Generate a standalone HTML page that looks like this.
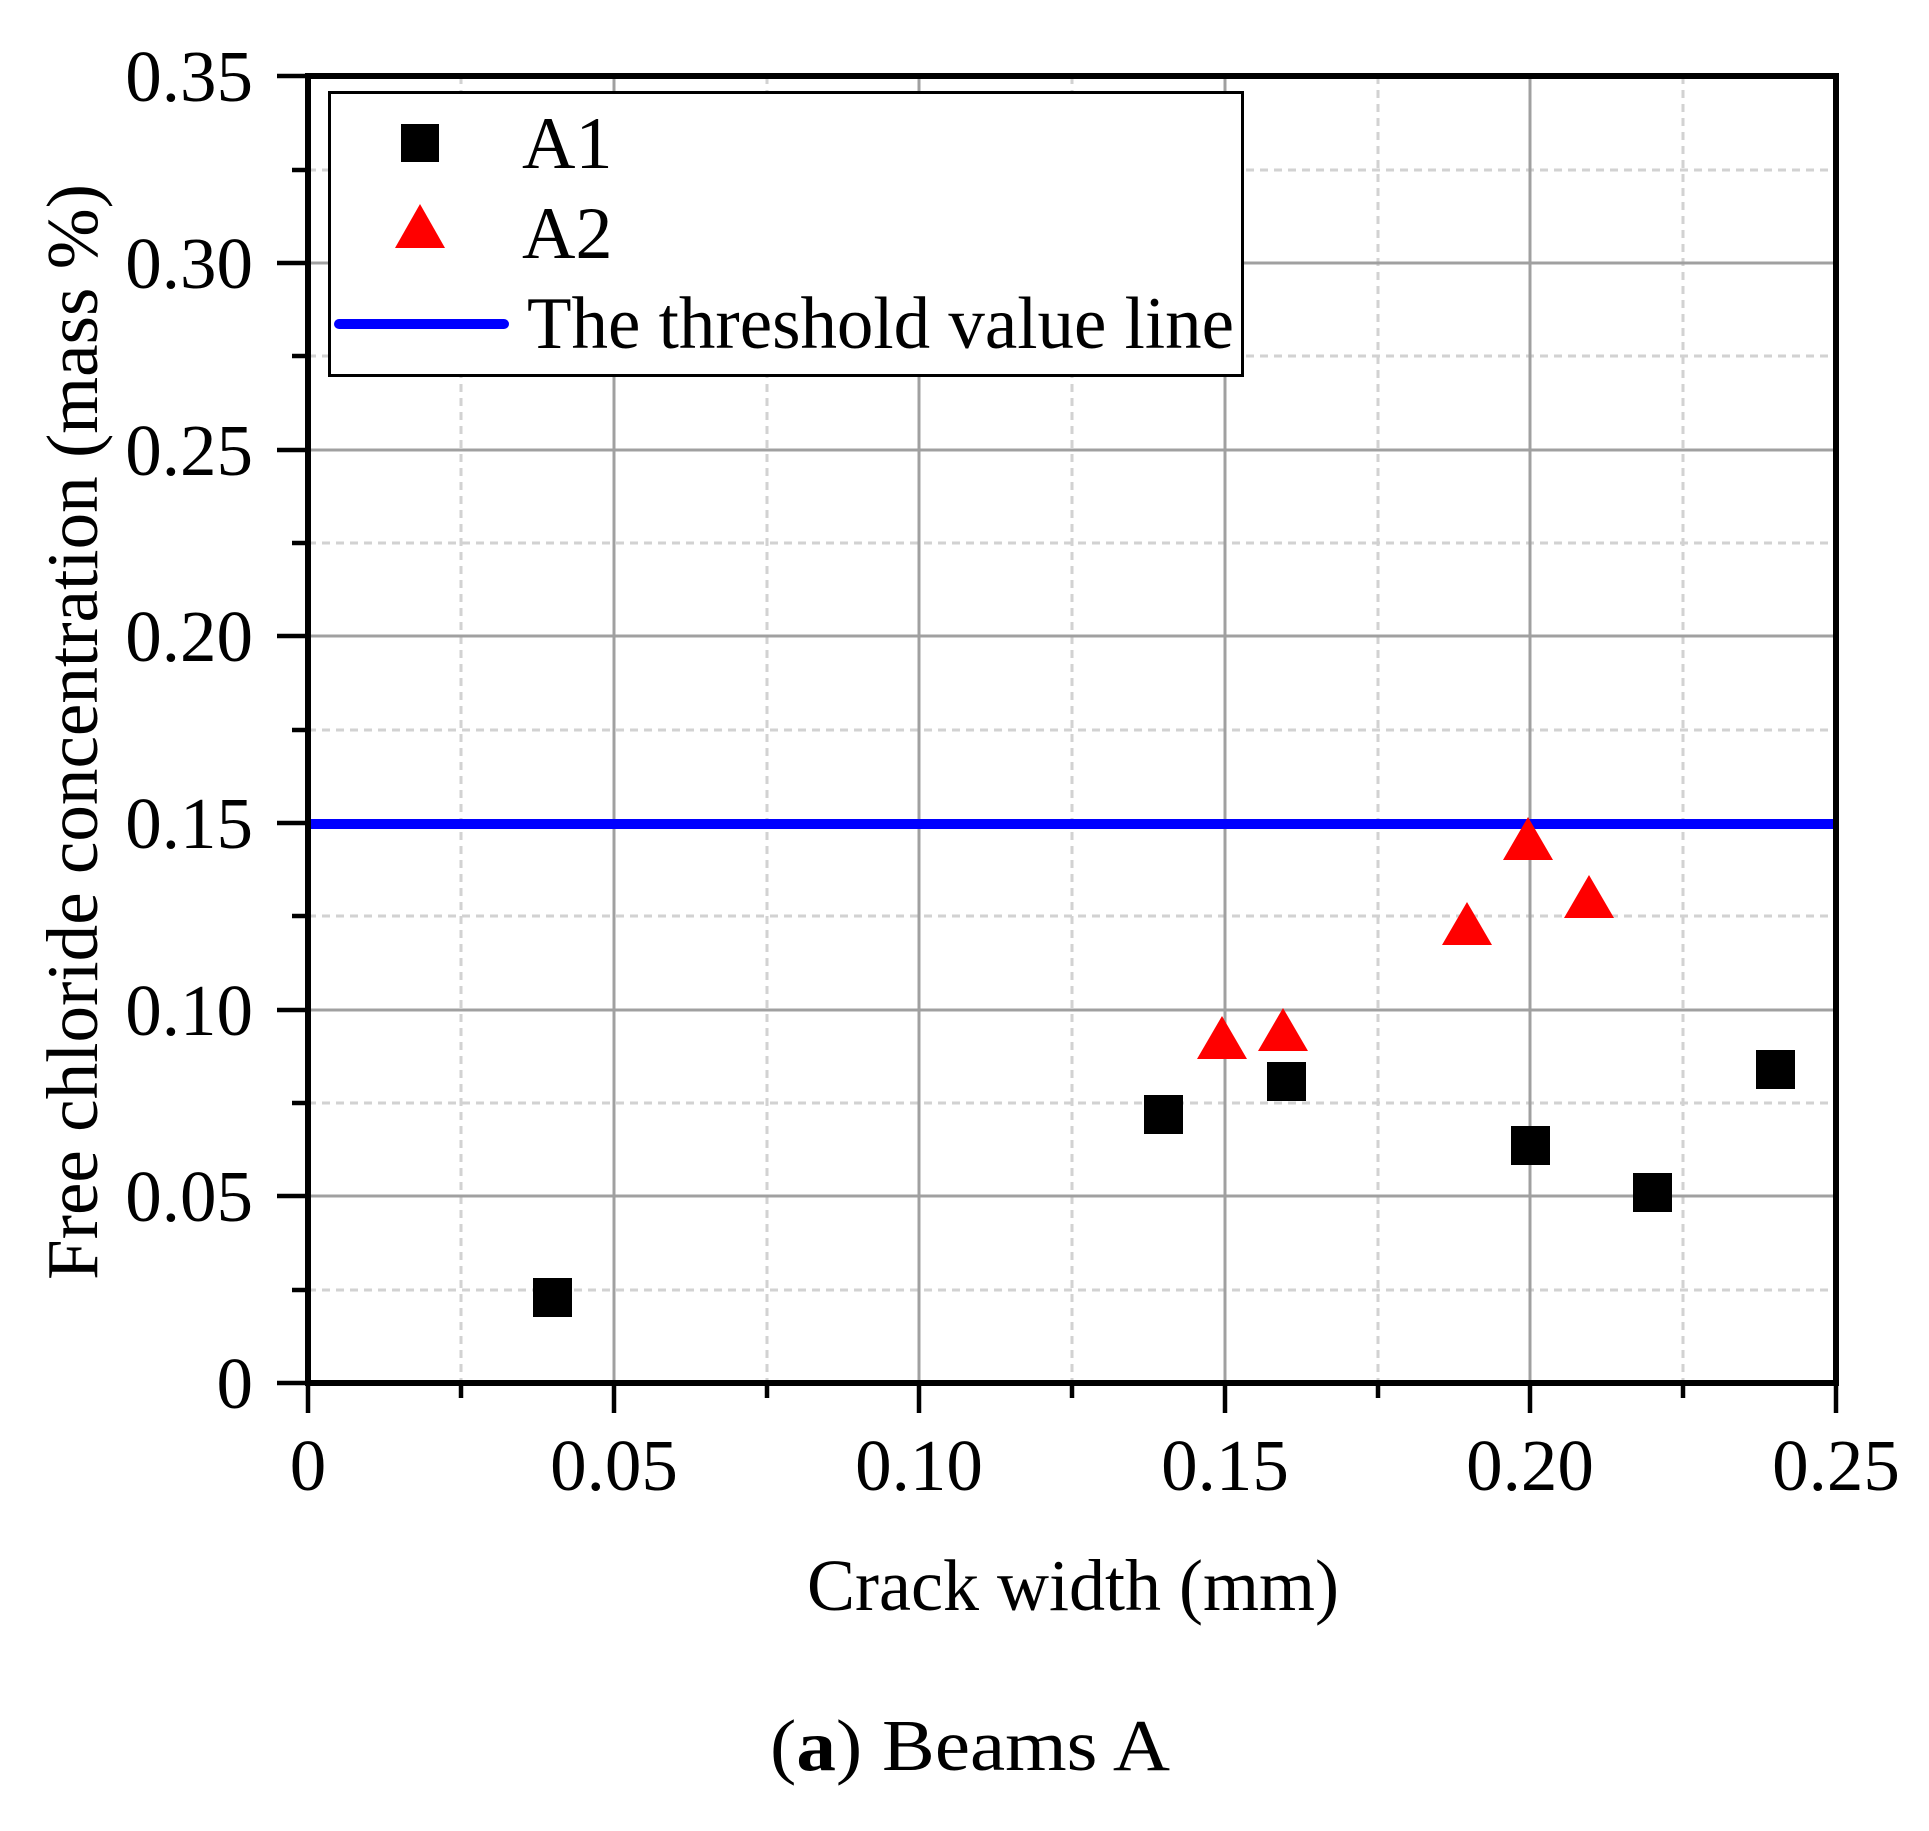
<!DOCTYPE html>
<html><head><meta charset="utf-8"><style>
html,body{margin:0;padding:0;background:#fff;}
svg{display:block;}
text{font-family:"Liberation Serif","Times New Roman",serif;fill:#000;}
</style></head><body>
<svg width="1929" height="1831" viewBox="0 0 1929 1831" xmlns="http://www.w3.org/2000/svg">
<rect width="1929" height="1831" fill="#fff"/>
<g stroke="#d2d2d2" stroke-width="3" stroke-dasharray="8,6">
<line x1="461" y1="76" x2="461" y2="1383"/>
<line x1="767" y1="76" x2="767" y2="1383"/>
<line x1="1072" y1="76" x2="1072" y2="1383"/>
<line x1="1378" y1="76" x2="1378" y2="1383"/>
<line x1="1683" y1="76" x2="1683" y2="1383"/>
<line x1="308" y1="1290" x2="1836" y2="1290"/>
<line x1="308" y1="1103" x2="1836" y2="1103"/>
<line x1="308" y1="916" x2="1836" y2="916"/>
<line x1="308" y1="730" x2="1836" y2="730"/>
<line x1="308" y1="543" x2="1836" y2="543"/>
<line x1="308" y1="356" x2="1836" y2="356"/>
<line x1="308" y1="170" x2="1836" y2="170"/>
</g>
<g stroke="#a0a0a0" stroke-width="3">
<line x1="614" y1="76" x2="614" y2="1383"/>
<line x1="919" y1="76" x2="919" y2="1383"/>
<line x1="1225" y1="76" x2="1225" y2="1383"/>
<line x1="1530" y1="76" x2="1530" y2="1383"/>
<line x1="308" y1="1196" x2="1836" y2="1196"/>
<line x1="308" y1="1010" x2="1836" y2="1010"/>
<line x1="308" y1="823" x2="1836" y2="823"/>
<line x1="308" y1="636" x2="1836" y2="636"/>
<line x1="308" y1="450" x2="1836" y2="450"/>
<line x1="308" y1="263" x2="1836" y2="263"/>
</g>
<line x1="308" y1="824" x2="1838" y2="824" stroke="#0000ff" stroke-width="10"/>
<rect x="308" y="76" width="1528" height="1307" fill="none" stroke="#000" stroke-width="6"/>
<g stroke="#000" stroke-width="4.5">
<line x1="277" y1="1383" x2="308" y2="1383"/><line x1="277" y1="1196" x2="308" y2="1196"/>
<line x1="277" y1="1010" x2="308" y2="1010"/><line x1="277" y1="823" x2="308" y2="823"/>
<line x1="277" y1="636" x2="308" y2="636"/><line x1="277" y1="450" x2="308" y2="450"/>
<line x1="277" y1="263" x2="308" y2="263"/><line x1="277" y1="76" x2="308" y2="76"/>
<line x1="292" y1="1290" x2="308" y2="1290"/><line x1="292" y1="1103" x2="308" y2="1103"/>
<line x1="292" y1="916" x2="308" y2="916"/><line x1="292" y1="730" x2="308" y2="730"/>
<line x1="292" y1="543" x2="308" y2="543"/><line x1="292" y1="356" x2="308" y2="356"/>
<line x1="292" y1="170" x2="308" y2="170"/>
<line x1="308" y1="1383" x2="308" y2="1413"/><line x1="614" y1="1383" x2="614" y2="1413"/>
<line x1="919" y1="1383" x2="919" y2="1413"/><line x1="1225" y1="1383" x2="1225" y2="1413"/>
<line x1="1530" y1="1383" x2="1530" y2="1413"/><line x1="1836" y1="1383" x2="1836" y2="1413"/>
<line x1="461" y1="1383" x2="461" y2="1398"/><line x1="767" y1="1383" x2="767" y2="1398"/>
<line x1="1072" y1="1383" x2="1072" y2="1398"/><line x1="1378" y1="1383" x2="1378" y2="1398"/>
<line x1="1683" y1="1383" x2="1683" y2="1398"/>
</g>
<g font-size="73" text-anchor="end">
<text x="253" y="1408">0</text>
<text x="253" y="1221">0.05</text>
<text x="253" y="1035">0.10</text>
<text x="253" y="848">0.15</text>
<text x="253" y="661">0.20</text>
<text x="253" y="475">0.25</text>
<text x="253" y="288">0.30</text>
<text x="253" y="101">0.35</text>
</g>
<g font-size="73" text-anchor="middle">
<text x="308" y="1490">0</text>
<text x="614" y="1490">0.05</text>
<text x="919" y="1490">0.10</text>
<text x="1225" y="1490">0.15</text>
<text x="1530" y="1490">0.20</text>
<text x="1836" y="1490">0.25</text>
</g>
<text x="807" y="1610" font-size="73" textLength="532" lengthAdjust="spacingAndGlyphs">Crack width (mm)</text>
<text transform="translate(97,1280) rotate(-90)" font-size="73" textLength="1096" lengthAdjust="spacingAndGlyphs">Free chloride concentration (mass %)</text>
<text x="770" y="1770" font-size="73" textLength="400" lengthAdjust="spacingAndGlyphs">(<tspan font-weight="bold">a</tspan>) Beams A</text>
<g fill="#000">
<rect x="533" y="1278" width="39" height="39"/>
<rect x="1144" y="1095" width="39" height="39"/>
<rect x="1267" y="1062" width="39" height="39"/>
<rect x="1511" y="1126" width="39" height="39"/>
<rect x="1633" y="1173" width="39" height="39"/>
<rect x="1756" y="1050" width="39" height="39"/>
</g>
<g fill="#ff0000">
<polygon points="1222,1016 1247,1059 1197,1059"/>
<polygon points="1283,1008 1308,1051 1258,1051"/>
<polygon points="1467,902 1492,945 1442,945"/>
<polygon points="1528,817 1553,860 1503,860"/>
<polygon points="1589,875 1614,918 1564,918"/>
</g>
<rect x="329.5" y="92.5" width="913" height="283" fill="#fff" stroke="#000" stroke-width="3"/>
<rect x="401" y="124" width="38" height="38" fill="#000"/>
<polygon points="420,204 445,248 395,248" fill="#ff0000"/>
<line x1="339" y1="324" x2="504" y2="324" stroke="#0000ff" stroke-width="10" stroke-linecap="round"/>
<g font-size="74">
<text x="522" y="168">A1</text>
<text x="522" y="258">A2</text>
<text x="527" y="348" textLength="707" lengthAdjust="spacingAndGlyphs">The threshold value line</text>
</g>
</svg>
</body></html>
